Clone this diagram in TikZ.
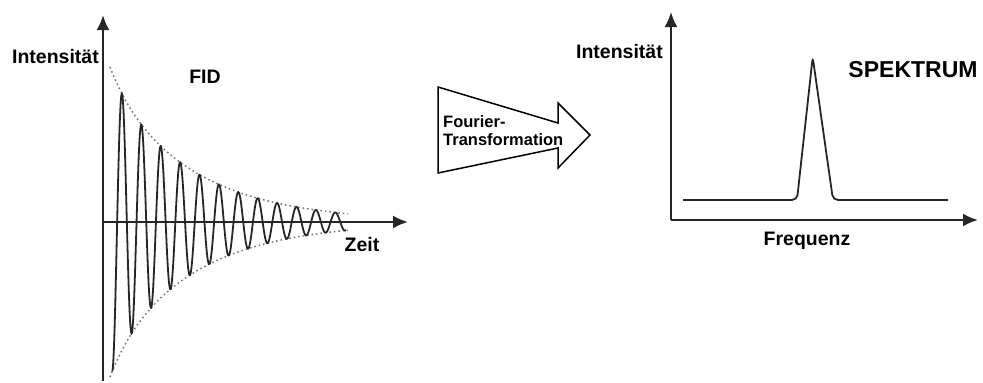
\documentclass[tikz,border=0pt]{standalone}
\usepackage{fontspec}
\setmainfont{Liberation Sans}
\usetikzlibrary{arrows.meta}
\begin{document}
\begin{tikzpicture}[x=1pt,y=-1pt,
  lbl/.style={font=\fontsize{19.5}{19.5}\selectfont\bfseries, inner sep=0pt},
  big/.style={font=\fontsize{23}{23}\selectfont\bfseries, inner sep=0pt},
  small/.style={font=\fontsize{16.5}{18}\selectfont\bfseries, inner sep=0pt, align=left},
  axis/.style={line width=2.2pt, draw=black!85, -{Latex[length=15pt,width=13pt]}},
  signal/.style={line width=1.8pt, black!85},
  env/.style={line width=1.5pt, black!55, dash pattern=on 1.5pt off 3pt},
  fbox/.style={line width=1.5pt, draw=black, fill=white, line join=miter}]
\useasboundingbox (0,0) rectangle (983,383);
% ---------- FID ----------
\coordinate (o1) at (103,222);
\coordinate (ytop1) at (103,15);
\coordinate (ybot1) at (103,381);
\coordinate (xend1) at (408,222);
\draw[env] plot[domain=110:348, samples=80, smooth] (\x, {222 - 20*exp(-(\x-110)/20) - 135*exp(-(\x-110)/85)});
\draw[env] plot[domain=110:348, samples=80, smooth] (\x, {222 + 20*exp(-(\x-110)/20) + 135*exp(-(\x-110)/85)});
\draw[signal] plot[domain=112.3:346, samples=900, smooth] (\x, {222 - (20*exp(-(\x-110)/20) + 135*exp(-(\x-110)/85))*cos(18.557*(\x-122))});
\draw[line width=2.2pt, black!85] (ybot1) -- (o1);
\draw[axis] (o1) -- (ytop1);
\draw[axis] (o1) -- (xend1);
\node[lbl, anchor=east] (int1) at (99,57) {Intensität};
\node[lbl] (fid) at (205,77) {FID};
\node[lbl] (zeit) at (362,245) {Zeit};
% ---------- Fourier arrow ----------
\draw[fbox] (438,87) -- (558,123) -- (558,103) -- (590,135) -- (558,168) -- (558,148) -- (438,173) -- cycle;
\node[small, anchor=west] (ft) at (443,131) {Fourier-\\Transformation};
% ---------- Spectrum ----------
\coordinate (o2) at (671,220);
\coordinate (ytop2) at (671,12);
\coordinate (xend2) at (978,220);
\draw[axis] (o2) -- (ytop2);
\draw[axis] (o2) -- (xend2);
\coordinate (b1) at (683,200);
\coordinate (b2) at (797,200);
\coordinate (pk) at (812.7,57);
\coordinate (b3) at (833,200);
\coordinate (b4) at (948,200);
\draw[signal, rounded corners=5pt] (b1) -- (b2) -- (pk) -- (b3) -- (b4);
\node[lbl, anchor=east] (int2) at (663,52) {Intensität};
\node[big] (spek) at (913,70) {SPEKTRUM};
\node[lbl] (freq) at (807,241) {Frequenz};
\end{tikzpicture}
\end{document}
